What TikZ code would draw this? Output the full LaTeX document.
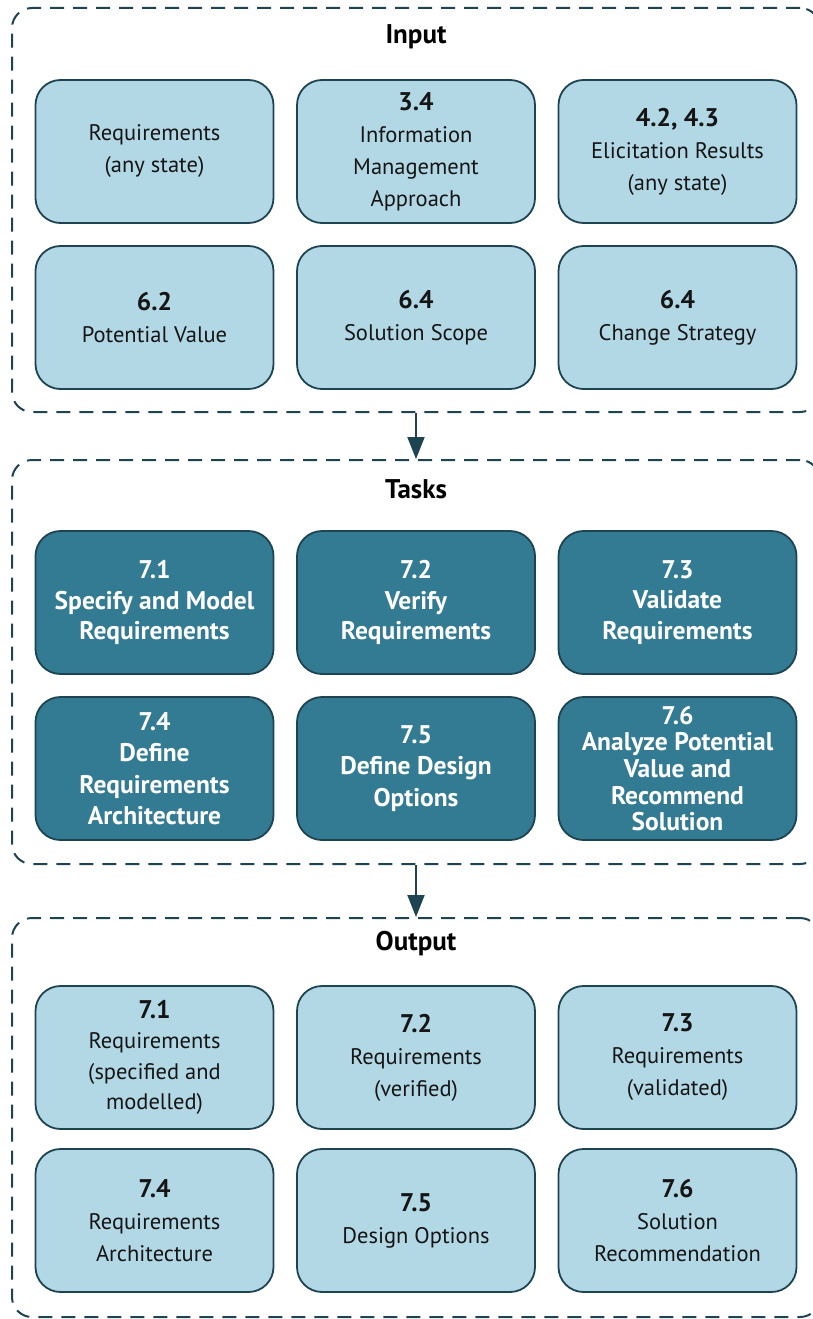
\documentclass[tikz,border=0pt]{standalone}
\usepackage{fontspec}
\setmainfont{PT Sans}
\usetikzlibrary{arrows.meta}
\definecolor{edgec}{HTML}{1E4452}
\definecolor{lightf}{HTML}{B3D8E5}
\definecolor{darkf}{HTML}{337B93}
\definecolor{txt}{HTML}{151515}
\newcommand\numtxt[1]{{\fontsize{25.5}{32}\selectfont\bfseries #1}}
\tikzset{
  framebox/.style={draw=edgec, line width=2pt, dash pattern=on 14pt off 9pt, rounded corners=20pt, minimum width=808pt, inner sep=0pt},
  lbox/.style={draw=edgec, line width=1.8pt, fill=lightf, rounded corners=25pt, minimum width=238pt, minimum height=143pt, inner sep=0pt, align=center, text=txt, font=\fontsize{22.5}{32}\selectfont},
  dbox/.style={lbox, fill=darkf, text=white, font=\fontsize{25.5}{31}\selectfont\bfseries},
  heading/.style={font=\fontsize{27}{30}\selectfont\bfseries, text=black},
  flowarrow/.style={draw=edgec, line width=2pt, -{Triangle[length=22pt, width=17pt]}}
}
\begin{document}
\begin{tikzpicture}[x=1pt, y=-1pt]
\useasboundingbox (0,0) rectangle (812,1319);
% frames
\node[framebox, minimum height=404pt] (inF) at (416,210) {};
\node[framebox, minimum height=404pt] (taskF) at (416,662) {};
\node[framebox, minimum height=399pt] (outF) at (416,1117.5) {};
\draw[flowarrow] (inF.south) -- (taskF.north);
\draw[flowarrow] (taskF.south) -- (outF.north);
% headings
\node[heading] (hIn) at (416,37) {Input};
\node[heading] (hTask) at (416,489) {Tasks};
\node[heading] (hOut) at (416,944) {Output};
% input boxes
\node[lbox] (i1) at (154.5,151.5) {Requirements\\(any state)};
\node[lbox] (i2) at (416,151.5) {\numtxt{3.4}\\Information\\Management\\Approach};
\node[lbox] (i3) at (677.5,151.5) {\numtxt{4.2, 4.3}\\Elicitation Results\\(any state)};
\node[lbox] (i4) at (154.5,317.5) {\numtxt{6.2}\\Potential Value};
\node[lbox] (i5) at (416,317.5) {\numtxt{6.4}\\Solution Scope};
\node[lbox] (i6) at (677.5,317.5) {\numtxt{6.4}\\Change Strategy};
% task boxes
\node[dbox, font=\fontsize{25.5}{30.5}\selectfont\bfseries] (t1) at (154.5,602.5) {7.1\\Specify and Model\\Requirements};
\node[dbox, font=\fontsize{25.5}{30.5}\selectfont\bfseries] (t2) at (416,602.5) {7.2\\Verify\\Requirements};
\node[dbox, font=\fontsize{25.5}{30.5}\selectfont\bfseries] (t3) at (677.5,602.5) {7.3\\Validate\\Requirements};
\node[dbox, font=\fontsize{25.5}{31.5}\selectfont\bfseries] (t4) at (154.5,768.5) {7.4\\Define\\Requirements\\Architecture};
\node[dbox, font=\fontsize{25.5}{31.5}\selectfont\bfseries] (t5) at (416,768.5) {7.5\\Define Design\\Options};
\node[dbox, font=\fontsize{25.5}{26.7}\selectfont\bfseries] (t6) at (677.5,768.5) {7.6\\Analyze Potential\\Value and\\Recommend\\Solution};
% output boxes
\node[lbox, font=\fontsize{22.5}{30.5}\selectfont] (o1) at (154.5,1057.5) {\numtxt{7.1}\\Requirements\\(specified and\\modelled)};
\node[lbox] (o2) at (416,1057.5) {\numtxt{7.2}\\Requirements\\(verified)};
\node[lbox] (o3) at (677.5,1057.5) {\numtxt{7.3}\\Requirements\\(validated)};
\node[lbox] (o4) at (154.5,1220.5) {\numtxt{7.4}\\Requirements\\Architecture};
\node[lbox] (o5) at (416,1220.5) {\numtxt{7.5}\\Design Options};
\node[lbox] (o6) at (677.5,1220.5) {\numtxt{7.6}\\Solution\\Recommendation};
\end{tikzpicture}
\end{document}
